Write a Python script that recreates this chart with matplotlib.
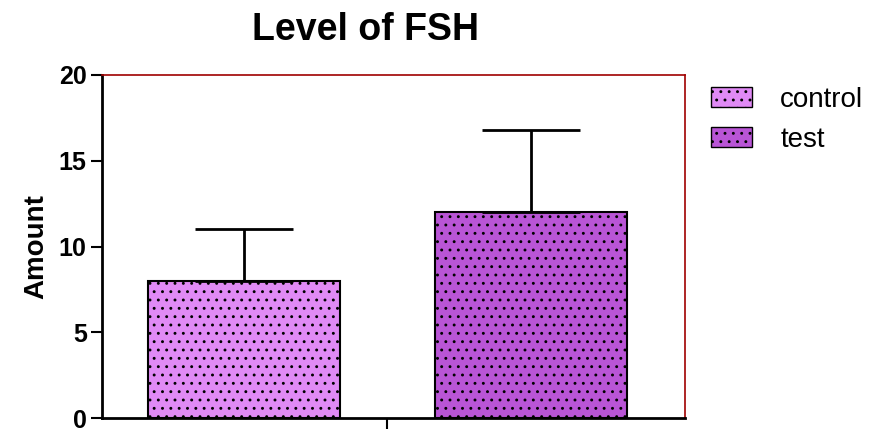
import matplotlib.pyplot as plt
import matplotlib.patches as mpatches

groups = ["control", "test"]
means = [8, 12]
errors = [3, 4.8]
colors = ["#e08af5", "#b955d6"]

plt.rcParams['font.family'] = ['Liberation Sans', 'DejaVu Sans']
plt.rcParams['hatch.linewidth'] = 0.9
plt.rcParams['hatch.color'] = 'black'

fig = plt.figure(figsize=(8.74, 4.33), dpi=100)
ax = fig.add_axes([0.1167, 0.0346, 0.7838 - 0.1167, 0.8268 - 0.0346])

pos = [0, 1]
for p, m, e, c in zip(pos, means, errors, colors):
    ax.bar(p, m, width=0.67, color=c, edgecolor='black', linewidth=1.5,
           hatch='..', zorder=2)
    ax.errorbar(p, m, yerr=[[0], [e]], fmt='none', ecolor='black',
                elinewidth=2, capsize=35, capthick=2, zorder=3)

ax.set_xlim(-0.496, 1.539)
ax.set_ylim(0, 20)
ax.set_yticks([0, 5, 10, 15, 20])
ax.set_xticks([0.5])
ax.set_xticklabels([""])
ax.tick_params(axis='y', direction='out', length=8, width=1.5, labelsize=18, pad=3)
ax.tick_params(axis='x', direction='out', length=8, width=1.5)
for lab in ax.get_yticklabels():
    lab.set_fontweight('bold')

ax.spines['left'].set_linewidth(2)
ax.spines['bottom'].set_linewidth(2)
ax.spines['top'].set_color('#a00000')
ax.spines['right'].set_color('#a00000')
ax.spines['top'].set_linewidth(1.2)
ax.spines['right'].set_linewidth(1.2)

ax.set_ylabel("Amount", fontsize=20, fontweight='bold', labelpad=7)
fig.text(0.418, 0.93, "Level of FSH", fontsize=27, fontweight='bold',
         ha='center', va='center')

handles = [mpatches.Patch(facecolor=c, edgecolor='black', hatch='..', linewidth=1)
           for c in colors]
fig.legend(handles, groups, loc='upper left', bbox_to_anchor=(0.8005, 0.825),
           frameon=False, fontsize=20, handlelength=1.5, handleheight=0.7,
           handletextpad=1.0, labelspacing=0.5, borderaxespad=0)

plt.savefig("out.png", dpi=100)
